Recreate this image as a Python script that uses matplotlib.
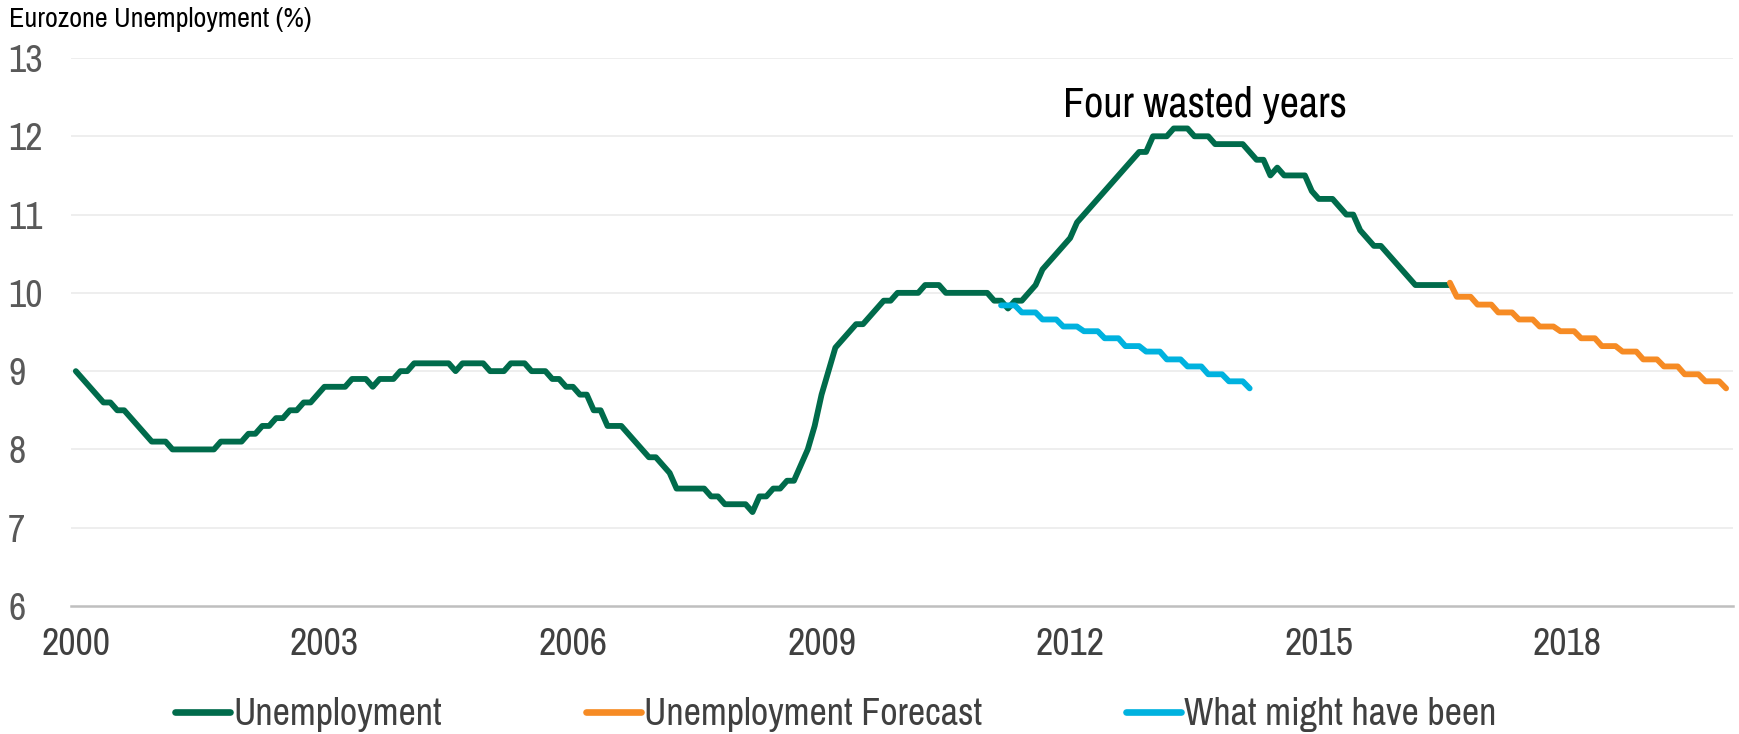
import matplotlib
matplotlib.use("Agg")
import matplotlib.pyplot as plt
from matplotlib import font_manager as fm
import numpy as np

# ---------------- data (monthly, Jan 2000 = index 0) ----------------
unemployment = [
    9.0, 8.9, 8.8, 8.7, 8.6, 8.6, 8.5, 8.5, 8.4, 8.3, 8.2, 8.1,          # 2000
    8.1, 8.1, 8.0, 8.0, 8.0, 8.0, 8.0, 8.0, 8.0, 8.1, 8.1, 8.1,          # 2001
    8.1, 8.2, 8.2, 8.3, 8.3, 8.4, 8.4, 8.5, 8.5, 8.6, 8.6, 8.7,          # 2002
    8.8, 8.8, 8.8, 8.8, 8.9, 8.9, 8.9, 8.8, 8.9, 8.9, 8.9, 9.0,          # 2003
    9.0, 9.1, 9.1, 9.1, 9.1, 9.1, 9.1, 9.0, 9.1, 9.1, 9.1, 9.1,          # 2004
    9.0, 9.0, 9.0, 9.1, 9.1, 9.1, 9.0, 9.0, 9.0, 8.9, 8.9, 8.8,          # 2005
    8.8, 8.7, 8.7, 8.5, 8.5, 8.3, 8.3, 8.3, 8.2, 8.1, 8.0, 7.9,          # 2006
    7.9, 7.8, 7.7, 7.5, 7.5, 7.5, 7.5, 7.5, 7.4, 7.4, 7.3, 7.3,          # 2007
    7.3, 7.3, 7.2, 7.4, 7.4, 7.5, 7.5, 7.6, 7.6, 7.8, 8.0, 8.3,          # 2008
    8.7, 9.0, 9.3, 9.4, 9.5, 9.6, 9.6, 9.7, 9.8, 9.9, 9.9, 10.0,         # 2009
    10.0, 10.0, 10.0, 10.1, 10.1, 10.1, 10.0, 10.0, 10.0, 10.0, 10.0, 10.0,  # 2010
    10.0, 9.9, 9.9, 9.8, 9.9, 9.9, 10.0, 10.1, 10.3, 10.4, 10.5, 10.6,   # 2011
    10.7, 10.9, 11.0, 11.1, 11.2, 11.3, 11.4, 11.5, 11.6, 11.7, 11.8, 11.8,  # 2012
    12.0, 12.0, 12.0, 12.1, 12.1, 12.1, 12.0, 12.0, 12.0, 11.9, 11.9, 11.9,  # 2013
    11.9, 11.9, 11.8, 11.7, 11.7, 11.5, 11.6, 11.5, 11.5, 11.5, 11.5, 11.3,  # 2014
    11.2, 11.2, 11.2, 11.1, 11.0, 11.0, 10.8, 10.7, 10.6, 10.6, 10.5, 10.4,  # 2015
    10.3, 10.2, 10.1, 10.1, 10.1, 10.1, 10.1, 10.1,                      # 2016 (to Aug)
]
unemployment_start = 0

forecast = [
    10.13,
    9.95, 9.95, 9.95, 9.85, 9.85, 9.85, 9.75, 9.75, 9.75,
    9.66, 9.66, 9.66, 9.57, 9.57, 9.57, 9.51, 9.51, 9.51,
    9.42, 9.42, 9.42, 9.32, 9.32, 9.32, 9.25, 9.25, 9.25,
    9.15, 9.15, 9.15, 9.06, 9.06, 9.06, 8.96, 8.96, 8.96,
    8.87, 8.87, 8.87, 8.78,
]
forecast_start = 199

might_have_been = [
    9.84, 9.84, 9.84, 9.75, 9.75, 9.75, 9.66, 9.66, 9.66,
    9.57, 9.57, 9.57, 9.51, 9.51, 9.51, 9.42, 9.42, 9.42,
    9.32, 9.32, 9.32, 9.25, 9.25, 9.25, 9.15, 9.15, 9.15,
    9.06, 9.06, 9.06, 8.96, 8.96, 8.96, 8.87, 8.87, 8.87, 8.78,
]
might_have_been_start = 134

year_ticks = [2000, 2003, 2006, 2009, 2012, 2015, 2018]
y_ticks = [6, 7, 8, 9, 10, 11, 12, 13]

labels = ["Unemployment", "Unemployment Forecast", "What might have been"]
colors = ["#006B4B", "#F68B24", "#00B2DF"]

# ---------------- fonts: narrow sans (Arial-Narrow like) ----------------
_names = {f.name for f in fm.fontManager.ttflist}
_pref = ["Liberation Sans Narrow", "Arial Narrow", "Nimbus Sans Narrow",
         "Archivo Narrow", "Roboto Condensed"]
NARROW = next((n for n in _pref if n in _names), "Liberation Sans")
plt.rcParams["font.family"] = [NARROW, "DejaVu Sans"]

W, H = 1740, 734
fig = plt.figure(figsize=(W / 100, H / 100), dpi=100)
_r = fig.canvas.get_renderer()
_sample = "Unemployment Forecast What might have been 2000 2003"
_w_ref = _r.get_text_width_height_descent(
    _sample, fm.FontProperties(family="Liberation Sans", size=20), False)[0]
_w_new = _r.get_text_width_height_descent(
    _sample, fm.FontProperties(family=NARROW, size=20), False)[0]
SC = _w_ref / _w_new  # keep the measured text widths

TICK_FS = 22.5 * SC
TITLE_FS = 16.7 * SC
NOTE_FS = 25 * SC

# ---------------- figure ----------------
ax = fig.add_axes([71 / W, 1 - 606 / H, (1733 - 71) / W, (606 - 58) / H])

series = [
    (unemployment, unemployment_start),
    (forecast, forecast_start),
    (might_have_been, might_have_been_start),
]
handles = []
for (vals, start), lab, col in zip(series, labels, colors):
    x = np.arange(start, start + len(vals))
    (h,) = ax.plot(x, vals, color=col, lw=4.2, solid_joinstyle="round",
                   solid_capstyle="round", label=lab, zorder=3)
    handles.append(h)

ax.set_xlim(-0.7, 240)
ax.set_ylim(6, 13)
ax.set_yticks(y_ticks)
ax.set_yticklabels([str(v) for v in y_ticks])
ax.set_xticks([(y - 2000) * 12 for y in year_ticks])
ax.set_xticklabels([str(y) for y in year_ticks])

for v in y_ticks[1:]:
    ax.axhline(v, color="#EAEAEA", lw=1.1, zorder=1)
ax.axhline(6, color="#BFBFBF", lw=1.8, zorder=2, clip_on=False)

for s in ax.spines.values():
    s.set_visible(False)
ax.tick_params(axis="both", length=0)
ax.tick_params(axis="y", pad=(71 - 8) * 0.72, labelsize=TICK_FS,
               labelcolor="#595959")
for tl in ax.get_yticklabels():
    tl.set_horizontalalignment("left")
ax.tick_params(axis="x", pad=15, labelsize=TICK_FS, labelcolor="#404040")

fig.text(9 / W, 1 - 20 / H, "Eurozone Unemployment (%)", fontsize=TITLE_FS,
         color="black", ha="left", va="center")
ax.text(143, 12.4, "Four wasted years", fontsize=NOTE_FS, color="black",
        ha="left", va="center")

fsp = TICK_FS / 0.72
leg = fig.legend(handles=handles, labels=labels, loc="center",
                 bbox_to_anchor=(836 / W, 1 - 715 / H), ncol=3, frameon=False,
                 fontsize=TICK_FS, handlelength=55 / fsp,
                 handletextpad=3 / fsp, columnspacing=144 / fsp,
                 borderaxespad=0, borderpad=0)
for t in leg.get_texts():
    t.set_color("#404040")
for lh in leg.get_lines():
    lh.set_linewidth(4.8)
    lh.set_solid_capstyle("round")

fig.savefig("out.png", dpi=100)
